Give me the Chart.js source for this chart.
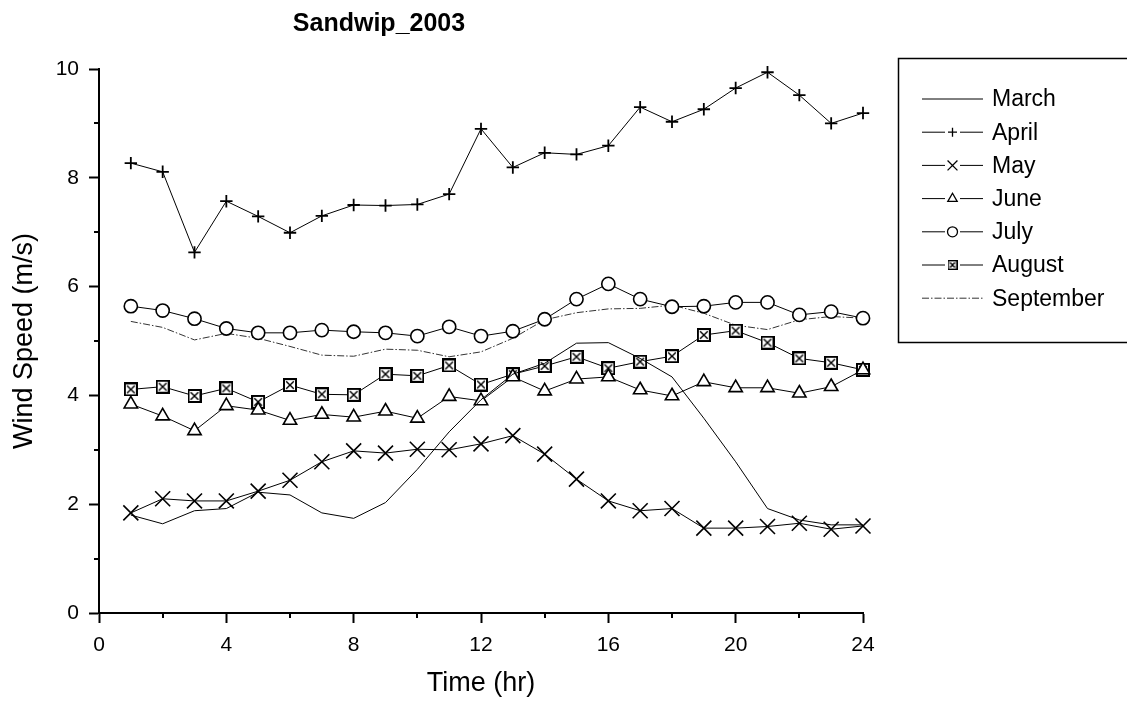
<!DOCTYPE html>
<html>
<head>
<meta charset="utf-8">
<script src="https://cdn.jsdelivr.net/npm/chart.js@4"></script>
<style>
  body { margin: 0; background: #fff; }
  #wrap { width: 1127px; height: 704px; position: relative; }
</style>
</head>
<body>
<div id="wrap"><canvas id="windChart"></canvas></div>
<script>
// hours of the day
const hours = [1, 2, 3, 4, 5, 6, 7, 8, 9, 10, 11, 12, 13, 14, 15, 16, 17, 18, 19, 20, 21, 22, 23, 24];

// monthly mean wind speed (m/s)
const march = [1.80, 1.64, 1.88, 1.92, 2.22, 2.17, 1.84, 1.74, 2.03, 2.64, 3.33, 3.92, 4.39, 4.59, 4.96, 4.97, 4.68, 4.34, 3.58, 2.78, 1.92, 1.71, 1.62, 1.62];
const april = [8.27, 8.11, 6.63, 7.57, 7.29, 6.99, 7.30, 7.50, 7.49, 7.51, 7.70, 8.90, 8.19, 8.46, 8.43, 8.59, 9.30, 9.03, 9.26, 9.65, 9.94, 9.52, 9.00, 9.19];
const may = [1.84, 2.10, 2.06, 2.06, 2.24, 2.44, 2.78, 2.98, 2.94, 3.01, 3.00, 3.11, 3.26, 2.92, 2.46, 2.06, 1.88, 1.92, 1.56, 1.56, 1.59, 1.65, 1.54, 1.60];
const june = [3.84, 3.62, 3.35, 3.81, 3.73, 3.54, 3.65, 3.60, 3.71, 3.58, 3.98, 3.90, 4.34, 4.08, 4.30, 4.34, 4.10, 3.99, 4.25, 4.14, 4.14, 4.04, 4.16, 4.47];
const july = [5.64, 5.56, 5.41, 5.23, 5.15, 5.15, 5.20, 5.17, 5.15, 5.09, 5.26, 5.09, 5.18, 5.40, 5.77, 6.05, 5.77, 5.63, 5.64, 5.71, 5.71, 5.48, 5.54, 5.42];
const august = [4.11, 4.16, 3.99, 4.13, 3.88, 4.19, 4.02, 4.01, 4.39, 4.36, 4.55, 4.20, 4.39, 4.54, 4.71, 4.50, 4.62, 4.72, 5.11, 5.19, 4.97, 4.68, 4.60, 4.47];
const september = [5.36, 5.25, 5.02, 5.14, 5.05, 4.90, 4.74, 4.72, 4.85, 4.83, 4.71, 4.80, 5.05, 5.39, 5.52, 5.59, 5.60, 5.66, 5.51, 5.29, 5.21, 5.39, 5.45, 5.42];

const FONT = "'Liberation Sans', Arial, Helvetica, sans-serif";

// square with an X inside, used for August
function makeBoxX(size, lw) {
    const c = document.createElement('canvas');
    c.width = size; c.height = size;
    const g = c.getContext('2d');
    const o = lw / 2;
    g.fillStyle = '#fff';
    g.fillRect(o, o, size - 2 * o, size - 2 * o);
    g.strokeStyle = '#000';
    g.lineWidth = lw;
    g.strokeRect(o, o, size - 2 * o, size - 2 * o);
    g.lineWidth = 1.4;
    const a = lw + 1.2, b = size - lw - 1.2;
    g.beginPath();
    g.moveTo(a, a); g.lineTo(b, b);
    g.moveTo(b, a); g.lineTo(a, b);
    g.stroke();
    return c;
}
const boxX = makeBoxX(14, 2);
const boxXSmall = makeBoxX(10, 1.4);

function toPoints(values) {
    return hours.map((h, i) => ({ x: h, y: values[i] }));
}

function series(label, values, style, radius, extra) {
    return Object.assign({
        label: label,
        data: toPoints(values),
        borderColor: '#000',
        borderWidth: 1,
        pointStyle: style || 'circle',
        pointRadius: radius || 0,
        pointBorderWidth: 1.6,
        pointBorderColor: '#000',
        pointBackgroundColor: '#fff',
        pointHoverRadius: radius || 0,
        showLine: true,
        fill: false,
        tension: 0,
        clip: false
    }, extra || {});
}

const datasets = [
    series('March', march, false, 0),
    series('April', april, 'cross', 6.2, { pointBorderWidth: 1.8, legendRadius: 4.5 }),
    series('May', may, 'crossRot', 10.6, { legendRadius: 7 }),
    series('June', june, 'triangle', 7.7, { legendRadius: 5.4 }),
    series('July', july, 'circle', 6.6, { legendRadius: 5 }),
    series('August', august, boxX, 7, { legendImage: boxXSmall }),
    series('September', september, false, 0, { borderColor: '#333', borderDash: [7, 2, 1.5, 2] })
];

const decorations = {
    id: 'decorations',
    afterDraw(chart) {
        const { ctx, scales: { x, y } } = chart;
        const x0 = x.getPixelForValue(0);
        const y0 = y.getPixelForValue(0);
        ctx.save();
        ctx.strokeStyle = '#000';
        ctx.lineWidth = 2;
        // minor tick marks (major ones come from the scales)
        for (let v = 2; v < 24; v += 4) {
            const px = Math.round(x.getPixelForValue(v));
            ctx.beginPath();
            ctx.moveTo(px, y0);
            ctx.lineTo(px, y0 + 5);
            ctx.stroke();
        }
        for (let v = 1; v < 10; v += 2) {
            const py = Math.round(y.getPixelForValue(v));
            ctx.beginPath();
            ctx.moveTo(x0, py);
            ctx.lineTo(x0 - 5, py);
            ctx.stroke();
        }

        // title
        ctx.fillStyle = '#000';
        ctx.font = 'bold 25px ' + FONT;
        ctx.textAlign = 'center';
        ctx.textBaseline = 'middle';
        ctx.fillText('Sandwip_2003', 379, 24);

        // legend box
        ctx.lineWidth = 1.5;
        ctx.strokeRect(898.5, 58.5, 260, 284);
        ctx.font = '23px ' + FONT;
        ctx.textAlign = 'left';
        chart.data.datasets.forEach((ds, i) => {
            const cy = 99 + i * 33.2;
            const hasMarker = ds.legendImage || ds.pointRadius > 0;
            ctx.save();
            ctx.strokeStyle = ds.borderColor;
            ctx.lineWidth = 1;
            ctx.setLineDash(ds.borderDash || []);
            ctx.beginPath();
            if (hasMarker) {
                ctx.moveTo(922, cy); ctx.lineTo(945, cy);
                ctx.moveTo(960, cy); ctx.lineTo(983, cy);
            } else {
                ctx.moveTo(922, cy); ctx.lineTo(983, cy);
            }
            ctx.stroke();
            ctx.restore();
            if (ds.legendImage) {
                const s = ds.legendImage.width;
                ctx.drawImage(ds.legendImage, 952.5 - s / 2, cy - s / 2);
            } else if (ds.pointRadius > 0) {
                ctx.save();
                ctx.fillStyle = '#fff';
                ctx.strokeStyle = '#000';
                ctx.lineWidth = 1.3;
                Chart.helpers.drawPoint(ctx, {
                    pointStyle: ds.pointStyle,
                    radius: ds.legendRadius,
                    rotation: 0,
                    borderWidth: 1.3
                }, 952.5, cy);
                ctx.restore();
            }
            ctx.fillStyle = '#000';
            ctx.fillText(ds.label, 992, cy + 1);
        });
        ctx.restore();
    }
};

new Chart(document.getElementById('windChart').getContext('2d'), {
    type: 'scatter',
    data: { datasets: datasets },
    options: {
        responsive: true,
        maintainAspectRatio: false,
        animation: false,
        events: [],
        layout: { padding: { top: 69, right: 264, left: 0, bottom: 0 } },
        scales: {
            x: {
                type: 'linear',
                min: 0,
                max: 24,
                afterFit(scale) { scale.height = 91; },
                grid: { display: true, drawOnChartArea: false, drawTicks: true, tickLength: 10, tickWidth: 2, tickColor: '#000' },
                border: { display: true, color: '#000', width: 2 },
                ticks: {
                    stepSize: 4,
                    padding: 10,
                    color: '#000',
                    font: { family: FONT, size: 21 }
                },
                title: {
                    display: true,
                    text: 'Time (hr)',
                    color: '#000',
                    font: { family: FONT, size: 27 },
                    padding: { top: 0, bottom: 4 }
                }
            },
            y: {
                type: 'linear',
                min: 0,
                max: 10,
                afterFit(scale) { scale.width = 99; },
                grid: { display: true, drawOnChartArea: false, drawTicks: true, tickLength: 10, tickWidth: 2, tickColor: '#000' },
                border: { display: true, color: '#000', width: 2 },
                ticks: {
                    stepSize: 2,
                    padding: 10,
                    color: '#000',
                    font: { family: FONT, size: 21 }
                },
                title: {
                    display: true,
                    text: 'Wind Speed (m/s)',
                    color: '#000',
                    font: { family: FONT, size: 27 },
                    padding: { top: 8, bottom: 0 }
                }
            }
        },
        plugins: {
            legend: { display: false },
            title: { display: false },
            tooltip: { enabled: false }
        }
    },
    plugins: [decorations]
});
</script>
</body>
</html>
